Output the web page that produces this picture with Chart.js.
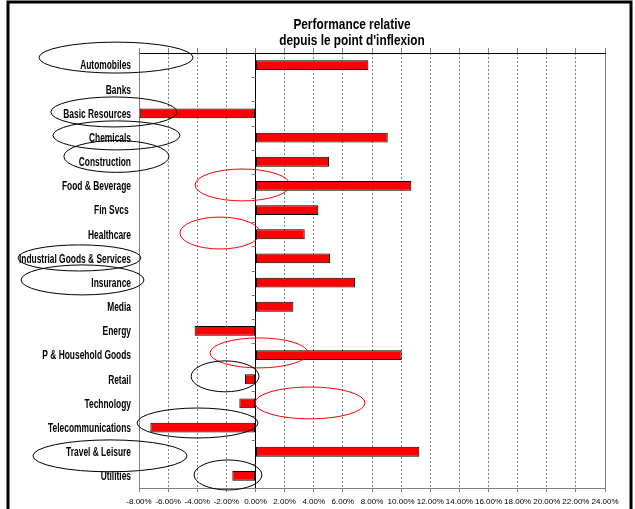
<!DOCTYPE html>
<html>
<head>
<meta charset="utf-8">
<script src="https://cdn.jsdelivr.net/npm/chart.js@4/dist/chart.umd.min.js"></script>
<style>
  html, body { margin: 0; padding: 0; background: #fff; }
  #wrap { width: 635px; height: 509px; }
</style>
</head>
<body>
<div id="wrap"><canvas id="perf"></canvas></div>
<script>
// secteurs et performance relative (%)
var sectors = ['Automobiles', 'Banks', 'Basic Resources', 'Chemicals', 'Construction',
  'Food & Beverage', 'Fin Svcs ', 'Healthcare', 'Industrial Goods & Services', 'Insurance',
  'Media', 'Energy', 'P & Household Goods', 'Retail', 'Technology',
  'Telecommunications', 'Travel & Leisure', 'Utilities'];
var perf = [7.75, 0, -7.95, 9.08, 5.05, 10.7, 4.31, 3.38, 5.12, 6.83,
  2.6, -4.18, 10.04, -0.72, -1.11, -7.22, 11.25, -1.59];
var xMin = -8, xMax = 24, xStep = 2;
var titleLines = ['Performance relative', "depuis le point d'inflexion"];

// cercles dessinés à la main (centre en %, index de catégorie)
var marks = [
  {x: -9.58, cat: -0.31, rx: 5.29, ry: 0.64, color: '#000'},
  {x: -9.72, cat: 1.94, rx: 4.33, ry: 0.62, color: '#000'},
  {x: -9.55, cat: 2.91, rx: 4.36, ry: 0.60, color: '#000'},
  {x: -9.55, cat: 3.78, rx: 3.61, ry: 0.66, color: '#000'},
  {x: -0.89, cat: 4.96, rx: 3.26, ry: 0.66, color: '#ff0000'},
  {x: -2.44, cat: 6.95, rx: 2.75, ry: 0.66, color: '#ff0000'},
  {x: -12.09, cat: 7.98, rx: 4.22, ry: 0.54, color: '#000'},
  {x: -11.88, cat: 8.89, rx: 4.22, ry: 0.62, color: '#000'},
  {x: 0.24, cat: 11.91, rx: 3.36, ry: 0.62, color: '#ff0000'},
  {x: -2.09, cat: 12.88, rx: 2.33, ry: 0.64, color: '#000'},
  {x: 3.74, cat: 13.98, rx: 3.78, ry: 0.66, color: '#ff0000'},
  {x: -3.98, cat: 14.81, rx: 4.15, ry: 0.62, color: '#000'},
  {x: -9.99, cat: 16.17, rx: 5.29, ry: 0.66, color: '#000'},
  {x: -1.89, cat: 16.96, rx: 2.33, ry: 0.62, color: '#000'}
];

var family = "'Liberation Sans', Arial, sans-serif";

// texte resserré façon Arial Narrow
function narrowText(ctx, text, x, y, sx) {
  ctx.save();
  ctx.translate(x, y);
  ctx.scale(sx, 1);
  ctx.fillText(text, 0, 0);
  ctx.restore();
}

var extras = {
  id: 'extras',
  afterDraw: function(chart) {
    var ctx = chart.ctx, x = chart.scales.x, y = chart.scales.y;
    var x0 = x.getPixelForValue(0);
    ctx.save();
    // petites graduations sur l'axe zéro
    ctx.strokeStyle = '#808080';
    ctx.lineWidth = 1;
    for (var i = 1; i < sectors.length; i++) {
      var yy = Math.round(y.getPixelForValue(i - 0.5)) + 0.5;
      ctx.beginPath();
      ctx.moveTo(x0 - 4, yy);
      ctx.lineTo(x0, yy);
      ctx.stroke();
    }
    // libellés des catégories
    ctx.fillStyle = '#000';
    ctx.font = 'bold 12px ' + family;
    ctx.textAlign = 'right';
    ctx.textBaseline = 'alphabetic';
    sectors.forEach(function(s, k) {
      narrowText(ctx, s, y.right - 8, y.getPixelForValue(k) + 4.3, 0.7);
    });
    // ellipses
    var unitX = x.getPixelForValue(1) - x0;
    var unitY = y.getPixelForValue(1) - y.getPixelForValue(0);
    marks.forEach(function(m) {
      ctx.beginPath();
      ctx.strokeStyle = m.color;
      ctx.lineWidth = 1;
      ctx.ellipse(x.getPixelForValue(m.x), y.getPixelForValue(m.cat), m.rx * unitX, m.ry * unitY, 0, 0, Math.PI * 2);
      ctx.stroke();
    });
    // titre
    ctx.fillStyle = '#000';
    ctx.font = 'bold 15px ' + family;
    ctx.textAlign = 'center';
    ctx.textBaseline = 'alphabetic';
    narrowText(ctx, titleLines[0], 352, 29, 0.79);
    narrowText(ctx, titleLines[1], 352, 45, 0.79);
    // cadre
    ctx.strokeStyle = '#000';
    ctx.lineWidth = 3;
    ctx.strokeRect(8, 2, 623, 600);
    ctx.restore();
  }
};

new Chart(document.getElementById('perf'), {
  type: 'bar',
  data: {
    labels: sectors,
    datasets: [{
      data: perf,
      backgroundColor: '#ff0000',
      borderColor: '#000',
      borderWidth: 1,
      borderSkipped: false,
      barPercentage: 0.41,
      categoryPercentage: 1.0
    }]
  },
  options: {
    indexAxis: 'y',
    responsive: true,
    maintainAspectRatio: false,
    animation: false,
    layout: { padding: { left: 0, right: 30, top: 48, bottom: 0 } },
    plugins: {
      legend: { display: false },
      tooltip: { enabled: false }
    },
    scales: {
      x: {
        type: 'linear',
        position: 'bottom',
        min: xMin,
        max: xMax,
        afterFit: function(s) { s.height = 21; },
        ticks: {
          stepSize: xStep,
          color: '#000',
          padding: 5,
          autoSkip: false,
          maxRotation: 0,
          font: { family: family, size: 8 },
          callback: function(v) { return v.toFixed(2) + '%'; }
        },
        grid: {
          color: function(c) { return c.tick && c.tick.value === 0 ? '#000' : '#808080'; },
          tickColor: '#808080',
          tickLength: 4
        },
        border: {
          color: '#808080',
          dash: function(c) {
            if (!c.tick) return [];
            return (c.tick.value === 0 || c.tick.value === xMax || c.tick.value === xMin) ? [] : [2, 2];
          }
        }
      },
      x2: {
        type: 'linear',
        position: 'top',
        min: xMin,
        max: xMax,
        ticks: { display: false, stepSize: xStep },
        grid: { drawOnChartArea: false, tickLength: 5, tickColor: '#808080' },
        border: { color: '#000' }
      },
      y: {
        afterFit: function(s) { s.width = 139; },
        ticks: { display: false },
        grid: { display: false, drawTicks: false },
        border: { display: true, color: '#808080' }
      }
    }
  },
  plugins: [extras]
});
</script>
</body>
</html>
